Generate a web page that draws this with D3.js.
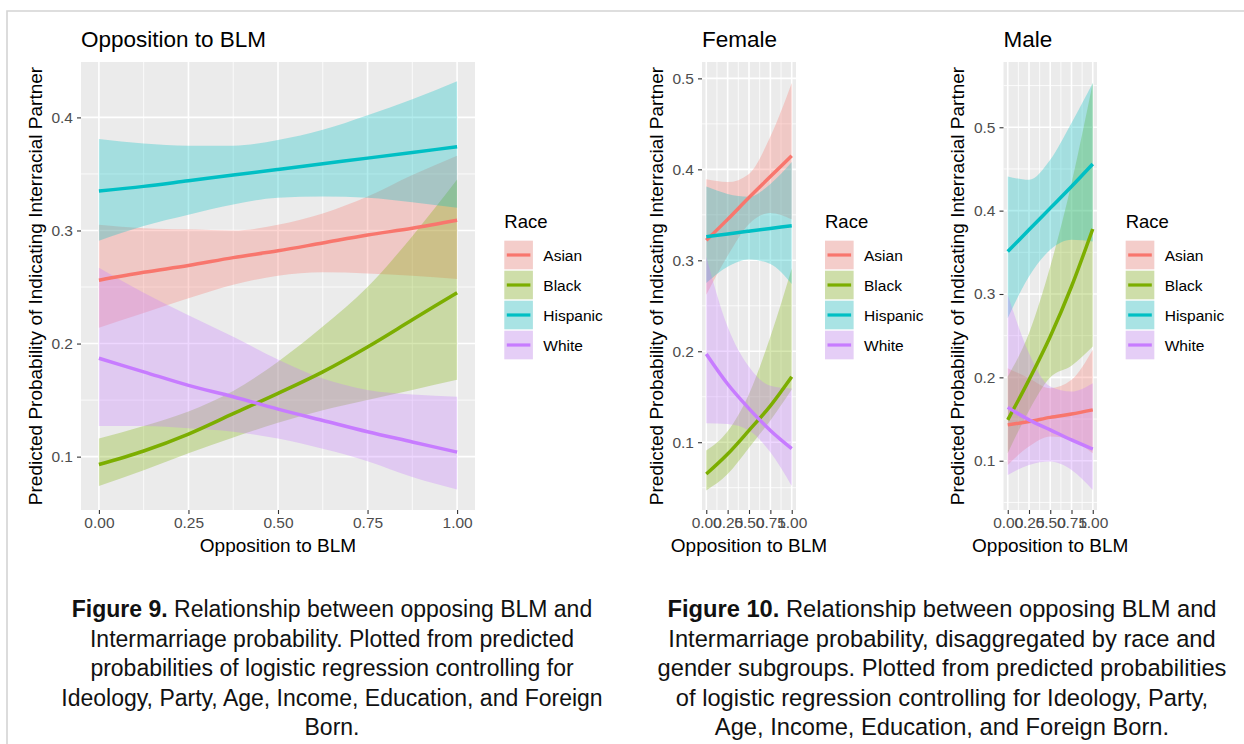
<!DOCTYPE html>
<html lang="en">
<head>
<meta charset="utf-8">
<title>Opposition to BLM and intermarriage</title>
<script src="https://d3js.org/d3.v7.min.js"></script>
<style>
  body { margin: 0; background: #fff; }
  svg text { font-family: "Liberation Sans", Arial, Helvetica, sans-serif; }
</style>
</head>
<body>
<div id="chart"></div>
<script>
const races = ["Asian", "Black", "Hispanic", "White"];
const raceColors = ["#F8766D", "#7CAE00", "#00BFC4", "#C77CFF"];

// Figure 9, all respondents (rows: Asian, Black, Hispanic, White)
const xAll = [0, 0.125, 0.25, 0.375, 0.5, 0.625, 0.75, 0.875, 1];
const allFit = [
  [0.256, 0.263, 0.269, 0.276, 0.282, 0.289, 0.296, 0.302, 0.309],
  [0.093, 0.105, 0.120, 0.138, 0.156, 0.175, 0.197, 0.221, 0.245],
  [0.335, 0.339, 0.344, 0.349, 0.354, 0.359, 0.364, 0.369, 0.374],
  [0.187, 0.175, 0.163, 0.153, 0.142, 0.132, 0.122, 0.113, 0.104]
];
const allLower = [
  [0.214, 0.227, 0.240, 0.252, 0.260, 0.263, 0.262, 0.260, 0.257],
  [0.074, 0.088, 0.103, 0.117, 0.130, 0.141, 0.150, 0.159, 0.168],
  [0.291, 0.304, 0.314, 0.323, 0.329, 0.330, 0.329, 0.325, 0.320],
  [0.127, 0.127, 0.125, 0.122, 0.116, 0.107, 0.096, 0.082, 0.071]
];
const allUpper = [
  [0.305, 0.302, 0.301, 0.300, 0.305, 0.315, 0.330, 0.349, 0.366],
  [0.116, 0.127, 0.140, 0.158, 0.184, 0.215, 0.250, 0.295, 0.345],
  [0.381, 0.377, 0.375, 0.375, 0.380, 0.389, 0.402, 0.416, 0.432],
  [0.267, 0.245, 0.225, 0.206, 0.186, 0.169, 0.159, 0.155, 0.153]
];

// Figure 10 panels
const xSub = [0, 0.25, 0.5, 0.75, 1];
const femaleFit = [
  [0.322, 0.345, 0.369, 0.392, 0.415],
  [0.065, 0.087, 0.113, 0.140, 0.172],
  [0.326, 0.329, 0.332, 0.335, 0.338],
  [0.197, 0.164, 0.137, 0.113, 0.093]
];
const femaleLower = [
  [0.262, 0.305, 0.340, 0.352, 0.345],
  [0.047, 0.065, 0.094, 0.124, 0.158],
  [0.275, 0.293, 0.301, 0.296, 0.274],
  [0.121, 0.120, 0.113, 0.089, 0.052]
];
const femaleUpper = [
  [0.389, 0.386, 0.395, 0.436, 0.495],
  [0.091, 0.112, 0.153, 0.216, 0.291],
  [0.381, 0.373, 0.370, 0.384, 0.408],
  [0.304, 0.227, 0.183, 0.162, 0.159]
];
const maleFit = [
  [0.143, 0.147, 0.152, 0.156, 0.161],
  [0.149, 0.197, 0.249, 0.309, 0.378],
  [0.351, 0.377, 0.403, 0.429, 0.456],
  [0.164, 0.149, 0.137, 0.125, 0.114]
];
const maleLower = [
  [0.095, 0.117, 0.129, 0.125, 0.109],
  [0.109, 0.160, 0.200, 0.214, 0.237],
  [0.271, 0.321, 0.353, 0.365, 0.363],
  [0.083, 0.095, 0.099, 0.089, 0.065]
];
const maleUpper = [
  [0.211, 0.199, 0.187, 0.197, 0.233],
  [0.201, 0.253, 0.333, 0.433, 0.553],
  [0.441, 0.437, 0.461, 0.505, 0.553],
  [0.299, 0.229, 0.189, 0.183, 0.193]
];

const xTicks = [0, 0.25, 0.5, 0.75, 1];
const yTicksAll = [0.1, 0.2, 0.3, 0.4];
const yTicksSub = [0.1, 0.2, 0.3, 0.4, 0.5];

const caption9 = [
  ["Figure 9.", " Relationship between opposing BLM and"],
  ["", "Intermarriage probability. Plotted from predicted"],
  ["", "probabilities of logistic regression controlling for"],
  ["", "Ideology, Party, Age, Income, Education, and Foreign"],
  ["", "Born."]
];
const caption10 = [
  ["Figure 10.", " Relationship between opposing BLM and"],
  ["", "Intermarriage probability, disaggregated by race and"],
  ["", "gender subgroups. Plotted from predicted probabilities"],
  ["", "of logistic regression controlling for Ideology, Party,"],
  ["", "Age, Income, Education, and Foreign Born."]
];

const W = 1244, H = 744;
const svg = d3.select("#chart").append("svg")
    .attr("width", W)
    .attr("height", H);

// page frame
svg.append("path")
    .attr("d", "M7," + H + "V11H" + W)
    .attr("fill", "none")
    .attr("stroke", "#d4d4d4")
    .attr("stroke-width", 1.6);

const panels = [
  {title: "Opposition to BLM", x0: 81, x1: 475, yDom: [0.0528, 0.449], yTicks: yTicksAll,
   xs: xAll, fit: allFit, lo: allLower, hi: allUpper, yTitleX: 35.5, legendX: 504.3},
  {title: "Female", x0: 702, x1: 796, yDom: [0.0255, 0.518], yTicks: yTicksSub,
   xs: xSub, fit: femaleFit, lo: femaleLower, hi: femaleUpper, yTitleX: 656, legendX: 825},
  {title: "Male", x0: 1003.5, x1: 1097, yDom: [0.0409, 0.5783], yTicks: yTicksSub,
   xs: xSub, fit: maleFit, lo: maleLower, hi: maleUpper, yTitleX: 957.5, legendX: 1125.7}
];
const plotTop = 62, plotBottom = 510;

panels.forEach(p => {
  const x = d3.scaleLinear().domain([-0.05, 1.05]).range([p.x0, p.x1]);
  const y = d3.scaleLinear().domain(p.yDom).range([plotBottom, plotTop]);
  const g = svg.append("g");

  g.append("rect")
      .attr("x", p.x0).attr("y", plotTop)
      .attr("width", p.x1 - p.x0).attr("height", plotBottom - plotTop)
      .attr("fill", "#EBEBEB");

  // minor grid
  const xMinor = [0.125, 0.375, 0.625, 0.875];
  const yMinor = d3.range(0.05, 0.6, 0.1).filter(v => v > p.yDom[0] && v < p.yDom[1]);
  g.selectAll(".xminor").data(xMinor).enter().append("line")
      .attr("x1", d => x(d)).attr("x2", d => x(d))
      .attr("y1", plotTop).attr("y2", plotBottom)
      .attr("stroke", "#fff").attr("stroke-width", 0.8);
  g.selectAll(".yminor").data(yMinor).enter().append("line")
      .attr("x1", p.x0).attr("x2", p.x1)
      .attr("y1", d => y(d)).attr("y2", d => y(d))
      .attr("stroke", "#fff").attr("stroke-width", 0.8);
  // major grid
  g.selectAll(".xmajor").data(xTicks).enter().append("line")
      .attr("x1", d => x(d)).attr("x2", d => x(d))
      .attr("y1", plotTop).attr("y2", plotBottom)
      .attr("stroke", "#fff").attr("stroke-width", 1.6);
  g.selectAll(".ymajor").data(p.yTicks).enter().append("line")
      .attr("x1", p.x0).attr("x2", p.x1)
      .attr("y1", d => y(d)).attr("y2", d => y(d))
      .attr("stroke", "#fff").attr("stroke-width", 1.6);

  const area = d3.area()
      .x(d => x(d.x))
      .y0(d => y(d.lo))
      .y1(d => y(d.hi))
      .curve(d3.curveMonotoneX);
  const line = d3.line()
      .x(d => x(d.x))
      .y(d => y(d.v))
      .curve(d3.curveMonotoneX);

  races.forEach((r, i) => {
    const pts = p.xs.map((xv, j) => ({x: xv, lo: p.lo[i][j], hi: p.hi[i][j]}));
    g.append("path")
        .attr("d", area(pts))
        .attr("fill", raceColors[i])
        .attr("fill-opacity", 0.3);
  });
  races.forEach((r, i) => {
    const pts = p.xs.map((xv, j) => ({x: xv, v: p.fit[i][j]}));
    g.append("path")
        .attr("d", line(pts))
        .attr("fill", "none")
        .attr("stroke", raceColors[i])
        .attr("stroke-width", 3.5);
  });

  // axes
  const ax = g.append("g")
      .attr("transform", "translate(0," + plotBottom + ")")
      .call(d3.axisBottom(x).tickValues(xTicks).tickFormat(d3.format(".2f"))
        .tickSize(4).tickPadding(3));
  const ay = g.append("g")
      .attr("transform", "translate(" + p.x0 + ",0)")
      .call(d3.axisLeft(y).tickValues(p.yTicks).tickFormat(d3.format(".1f"))
        .tickSize(4).tickPadding(4));
  [ax, ay].forEach(a => {
    a.select(".domain").remove();
    a.selectAll(".tick line").attr("stroke", "#333").attr("stroke-width", 1.1);
    a.selectAll(".tick text")
        .attr("fill", "#4D4D4D")
        .style("font-size", "15.5px")
        .style("font-family", "'Liberation Sans', Arial, sans-serif");
  });

  // titles
  g.append("text")
      .attr("x", p.x0).attr("y", 47)
      .style("font-size", "22.5px")
      .text(p.title);
  g.append("text")
      .attr("x", (p.x0 + p.x1) / 2).attr("y", 552)
      .attr("text-anchor", "middle")
      .style("font-size", "19px")
      .text("Opposition to BLM");
  g.append("text")
      .attr("transform", "translate(" + p.yTitleX + "," + (plotTop + plotBottom) / 2 + ") rotate(-90)")
      .attr("text-anchor", "middle")
      .attr("dy", "0.35em")
      .style("font-size", "19px")
      .text("Predicted Probability of Indicating Interracial Partner");

  // legend
  const lg = g.append("g").attr("transform", "translate(" + p.legendX + ",0)");
  lg.append("text")
      .attr("x", 0).attr("y", 228.3)
      .style("font-size", "18.5px")
      .text("Race");
  const keys = lg.selectAll(".key").data(races).enter().append("g")
      .attr("transform", (d, i) => "translate(0," + (240.7 + i * 30) + ")");
  keys.append("rect")
      .attr("width", 28.6).attr("height", 28.6)
      .attr("fill", "#F2F2F2");
  keys.append("rect")
      .attr("width", 28.6).attr("height", 28.6)
      .attr("fill", (d, i) => raceColors[i])
      .attr("fill-opacity", 0.3);
  keys.append("line")
      .attr("x1", 2.5).attr("x2", 26.1)
      .attr("y1", 14.3).attr("y2", 14.3)
      .attr("stroke", (d, i) => raceColors[i])
      .attr("stroke-width", 3.2);
  keys.append("text")
      .attr("x", 39).attr("y", 14.3)
      .attr("dy", "0.36em")
      .style("font-size", "15.5px")
      .text(d => d);
});

// captions
function caption(lines, cx, size) {
  const t = svg.append("text")
      .attr("text-anchor", "middle")
      .style("font-size", size + "px")
      .attr("fill", "#111");
  lines.forEach((ln, i) => {
    const row = t.append("tspan").attr("x", cx).attr("y", 617 + i * 29.5);
    if (ln[0]) row.append("tspan").style("font-weight", "bold").text(ln[0]);
    row.append("tspan").text(ln[1]);
  });
}
caption(caption9, 332, 23);
caption(caption10, 942, 23.7);
</script>
</body>
</html>
